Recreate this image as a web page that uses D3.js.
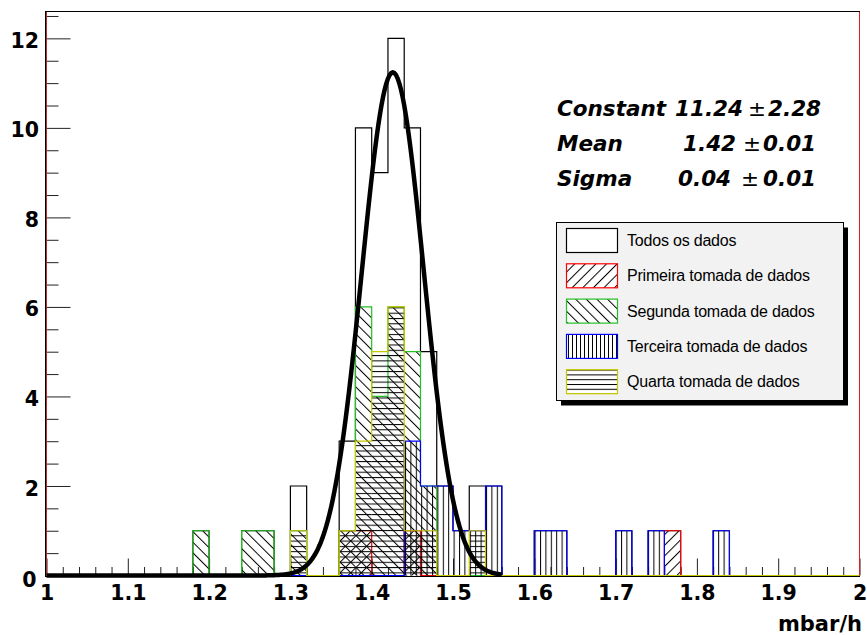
<!DOCTYPE html>
<html>
<head>
<meta charset="utf-8">
<script src="https://cdn.jsdelivr.net/npm/d3@7"></script>
<style>
  body { margin: 0; background: #fff; }
</style>
</head>
<body>
<svg id="chart" width="867" height="635"></svg>
<script>
// histogram contents, [bin low edge, count], bin width 0.02
const binWidth = 0.02
const todos = [[1.18, 1], [1.24, 1], [1.26, 1], [1.30, 2], [1.36, 3], [1.38, 10], [1.40, 9], [1.42, 12],
  [1.44, 10], [1.46, 5], [1.48, 2], [1.50, 1], [1.52, 2], [1.54, 2], [1.60, 1], [1.62, 1],
  [1.70, 1], [1.74, 1], [1.76, 1], [1.82, 1]]
const primeira = [[1.36, 1], [1.38, 1], [1.44, 1], [1.76, 1]]
const segunda = [[1.18, 1], [1.24, 1], [1.26, 1], [1.30, 1], [1.36, 1], [1.38, 6], [1.40, 4], [1.42, 6],
  [1.44, 5], [1.46, 2]]
const terceira = [[1.44, 3], [1.46, 2], [1.48, 2], [1.50, 1], [1.52, 1], [1.54, 2], [1.60, 1], [1.62, 1],
  [1.70, 1], [1.74, 1], [1.82, 1]]
const quarta = [[1.30, 1], [1.36, 1], [1.38, 3], [1.40, 5], [1.42, 6], [1.44, 1], [1.46, 1], [1.52, 1]]

const legendLabels = ["Todos os dados", "Primeira tomada de dados", "Segunda tomada de dados",
  "Terceira tomada de dados", "Quarta tomada de dados"]

// gaussian fit
const fitConstant = 11.24
const fitMean = 1.426
const fitSigma = 0.038
const fitRange = [1.0, 1.561]
const statNames = ["Constant", "Mean", "Sigma"]
const statValues = ["11.24", "1.42", "0.04"]
const statErrors = ["2.28", "0.01", "0.01"]

const xTicks = [1, 1.1, 1.2, 1.3, 1.4, 1.5, 1.6, 1.7, 1.8, 1.9, 2]
const yTicks = [0, 2, 4, 6, 8, 10, 12]
const xLabel = "mbar/h"

const colors = ["#000000", "#ff0000", "#22c022", "#0000ff", "#c8c800"]
const hatches = [null, "h_slash", "h_back", "h_vert", "h_horiz"]

const svg = d3.select("#chart")
const x = d3.scaleLinear().domain([1, 2]).range([46.5, 859.5])
const y = d3.scaleLinear().domain([0, 12.6]).range([575.5, 11.5])

// hatch patterns
const defs = svg.append("defs")
function hatch(id, size, angle){
  const p = defs.append("pattern")
    .attr("id", id)
    .attr("patternUnits", "userSpaceOnUse")
    .attr("width", size)
    .attr("height", size)
    .attr("patternTransform", `rotate(${angle})`)
  p.append("line")
    .attr("x1", 0.5).attr("y1", -1)
    .attr("x2", 0.5).attr("y2", size + 1)
    .attr("stroke", "#000")
    .attr("stroke-width", 1)
}
hatch("h_slash", 7.5, 45)
hatch("h_back", 7.5, -45)
hatch("h_vert", 5.4, 0)
hatch("h_horiz", 5.3, 90)
hatch("l_vert", 4, 0)
hatch("l_horiz", 4.8, 90)

// axes
const tickFont = "'DejaVu Sans', sans-serif"

const yMajor = svg.append("g")
  .attr("transform", `translate(${x(1)},0)`)
  .call(d3.axisLeft(y).tickValues(yTicks).tickSize(-24).tickPadding(7.5))
yMajor.select(".domain").remove()
yMajor.selectAll("text").attr("dy", "0.44em")
yMajor.selectAll(".tick text").filter(d => d == 0).attr("dy", "0.55em").attr("x", -10)

const yMinor = svg.append("g")
  .attr("transform", `translate(${x(1)},0)`)
  .call(d3.axisLeft(y).tickValues(d3.range(0, 12.6, 0.5).filter(v => v % 2 != 0)).tickSize(-12).tickFormat(""))
yMinor.select(".domain").remove()

const xMajor = svg.append("g")
  .attr("transform", `translate(0,${y(0)})`)
  .call(d3.axisBottom(x).tickValues(xTicks).tickSize(-17).tickPadding(10)
    .tickFormat(d => (d == 1 || d == 2) ? d3.format("d")(d) : d3.format(".1f")(d)))
xMajor.select(".domain").remove()

const xMinor = svg.append("g")
  .attr("transform", `translate(0,${y(0)})`)
  .call(d3.axisBottom(x).tickValues(d3.range(1.02, 2, 0.02).filter(v => Math.abs(v * 10 - Math.round(v * 10)) > 0.01))
    .tickSize(-8.5).tickFormat(""))
xMinor.select(".domain").remove()

svg.selectAll(".tick line").attr("stroke", "#222")
svg.selectAll(".tick text")
  .attr("font-family", tickFont)
  .attr("font-weight", "bold")
  .attr("font-size", 20.5)
  .attr("fill", "#000")

svg.append("text")
  .attr("x", 862)
  .attr("y", 631)
  .attr("text-anchor", "end")
  .attr("font-family", tickFont)
  .attr("font-weight", "bold")
  .attr("font-size", 21)
  .text(xLabel)

// frame
svg.append("rect")
  .attr("x", 45.5).attr("y", 11.5)
  .attr("width", 814).attr("height", 565)
  .attr("fill", "none")
  .attr("stroke", "#000")
svg.append("line")
  .attr("x1", 46.5).attr("x2", 46.5).attr("y1", 12).attr("y2", 575)
  .attr("stroke", "#b03030")
svg.append("line")
  .attr("x1", 859.5).attr("x2", 859.5).attr("y1", 12).attr("y2", 575)
  .attr("stroke", "#e02020")

// histograms
const allBins = d3.range(50).map(i => +(1 + i * binWidth).toFixed(2))

function draw_hist(data, index){
  const counts = new Map(data.map(d => [d[0].toFixed(2), d[1]]))
  const full = allBins.map(lo => [lo, counts.get(lo.toFixed(2)) || 0])
  const g = svg.append("g").attr("class", "hist" + index)

  if (hatches[index]){
    g.selectAll("rect")
      .data(data)
      .enter()
      .append("rect")
      .attr("x", d => x(d[0]))
      .attr("y", d => y(d[1]))
      .attr("width", d => x(d[0] + binWidth) - x(d[0]))
      .attr("height", d => y(0) - y(d[1]))
      .attr("fill", `url(#${hatches[index]})`)
  }

  const pts = full.concat([[2, full[full.length - 1][1]]])
  const line = d3.line()
    .x(d => x(d[0]))
    .y(d => y(d[1]))
    .curve(d3.curveStepAfter)
  g.append("path")
    .attr("d", line(pts))
    .attr("fill", "none")
    .attr("stroke", colors[index])
    .attr("stroke-width", 1.2)
}

;[todos, primeira, segunda, terceira, quarta].forEach((data, i) => draw_hist(data, i))

// fit curve
const gauss = v => fitConstant * Math.exp(-0.5 * Math.pow((v - fitMean) / fitSigma, 2))
const curvePts = d3.range(fitRange[0], fitRange[1], 0.002).map(v => [v, gauss(v)])
svg.append("path")
  .attr("d", d3.line().x(d => x(d[0])).y(d => y(d[1]))(curvePts))
  .attr("fill", "none")
  .attr("stroke", "#000")
  .attr("stroke-width", 4.5)
  .attr("stroke-linejoin", "round")

// fit stats
const statY = [116, 151, 186]
const statValueX = [675, 683, 678]
const statPmX = [748, 743, 741]
const statErrX = [768, 763, 763]
const statG = svg.append("g")
  .attr("font-family", tickFont)
  .attr("font-size", 21.5)
statNames.forEach((name, i) => {
  statG.append("text").attr("x", 557).attr("y", statY[i])
    .attr("font-weight", "bold").attr("font-style", "italic").text(name)
  statG.append("text").attr("x", statValueX[i]).attr("y", statY[i])
    .attr("font-weight", "bold").attr("font-style", "italic").text(statValues[i])
  statG.append("text").attr("x", statPmX[i]).attr("y", statY[i])
    .attr("font-weight", "normal").text("±")
  statG.append("text").attr("x", statErrX[i]).attr("y", statY[i])
    .attr("font-weight", "bold").attr("font-style", "italic").text(statErrors[i])
})

// legend
const legend = svg.append("g")
legend.append("rect")
  .attr("x", 561).attr("y", 227.5)
  .attr("width", 287).attr("height", 178)
  .attr("fill", "#000")
legend.append("rect")
  .attr("x", 556.5).attr("y", 222.5)
  .attr("width", 287).attr("height", 178)
  .attr("fill", "#f2f2f2")
  .attr("stroke", "#000")

const legendHatch = [null, "h_slash", "h_back", "l_vert", "l_horiz"]
legendLabels.forEach((label, i) => {
  const cy = 240.5 + i * 35.3
  legend.append("rect")
    .attr("x", 566.5).attr("y", cy - 12)
    .attr("width", 51).attr("height", 24)
    .attr("fill", "#fff")
  if (legendHatch[i]){
    legend.append("rect")
      .attr("x", 566.5).attr("y", cy - 12)
      .attr("width", 51).attr("height", 24)
      .attr("fill", `url(#${legendHatch[i]})`)
  }
  legend.append("rect")
    .attr("x", 566.5).attr("y", cy - 12)
    .attr("width", 51).attr("height", 24)
    .attr("fill", "none")
    .attr("stroke", colors[i])
    .attr("stroke-width", 1.2)
  legend.append("text")
    .attr("x", 627).attr("y", cy + 5.5)
    .attr("font-family", "'Liberation Sans', Arial, sans-serif")
    .attr("font-size", 16)
    .attr("letter-spacing", -0.2)
    .text(label)
})
</script>
</body>
</html>
